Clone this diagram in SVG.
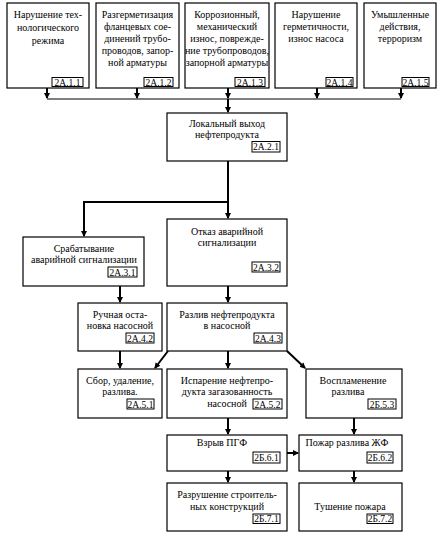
<svg xmlns="http://www.w3.org/2000/svg" width="440" height="535" viewBox="0 0 440 535">
<style>
.b{fill:#fff;stroke:#000;stroke-width:1.2}
.c{fill:#fff;stroke:#000;stroke-width:1}
text{font-family:'Liberation Serif','Times New Roman',serif;font-size:10px;fill:#000;text-anchor:middle}
.k{font-size:9.5px}
.w{fill:none;stroke:#000;stroke-width:2}
.t{fill:none;stroke:#000;stroke-width:1.2}
</style>
<defs>
<marker id="ah" viewBox="0 0 6 6" refX="5" refY="3" markerWidth="3" markerHeight="3" orient="auto" markerUnits="strokeWidth">
<path d="M0,0 L6,3 L0,6 z" fill="#000"/>
</marker>
</defs>
<rect width="440" height="535" fill="#fff"/>

<g id="connectors">
<path class="w" d="M47,88 V98" marker-end="url(#ah)"/>
<path class="w" d="M137,88 V98" marker-end="url(#ah)"/>
<path class="w" d="M228,88 V98" marker-end="url(#ah)"/>
<path class="w" d="M317,88 V98" marker-end="url(#ah)"/>
<path class="w" d="M401,88 V98" marker-end="url(#ah)"/>
<path class="t" d="M47,99 H401"/>
<path class="w" d="M228,99 V112" marker-end="url(#ah)"/>
<path class="w" d="M228,161 V218" marker-end="url(#ah)"/>
<path class="w" d="M228,202 H84 V236" marker-end="url(#ah)"/>
<path class="w" d="M120,286 V302" marker-end="url(#ah)"/>
<path class="w" d="M228,286 V302" marker-end="url(#ah)"/>
<path class="w" d="M120,351 V368" marker-end="url(#ah)"/>
<path class="w" d="M168,351 L155,368" marker-end="url(#ah)"/>
<path class="w" d="M228,351 V368" marker-end="url(#ah)"/>
<path class="w" d="M287,351 L305,368" marker-end="url(#ah)"/>
<path class="w" d="M228,418 V434" marker-end="url(#ah)"/>
<path class="w" d="M354,418 V434" marker-end="url(#ah)"/>
<path class="w" d="M287,453 H298" marker-end="url(#ah)"/>
<path class="w" d="M228,471 V482" marker-end="url(#ah)"/>
<path class="w" d="M354,471 V482" marker-end="url(#ah)"/>
</g>

<g id="n2A11">
<rect class="b" x="7" y="3" width="82" height="85"/>
<text x="48" y="18">Нарушение тех-</text>
<text x="48" y="31">нологического</text>
<text x="48" y="44">режима</text>
<rect class="c" x="52" y="77.5" width="31" height="9"/>
<text class="k" x="67.5" y="85.5">2А.1.1</text>
</g>
<g id="n2A12">
<rect class="b" x="96" y="3" width="83" height="85"/>
<text x="137.5" y="18">Разгерметизация</text>
<text x="137.5" y="30">фланцевых сое-</text>
<text x="137.5" y="42">динений трубо-</text>
<text x="137.5" y="54">проводов, запор-</text>
<text x="137.5" y="66">ной арматуры</text>
<rect class="c" x="144" y="77.5" width="29" height="9"/>
<text class="k" x="158.5" y="85.5">2А.1.2</text>
</g>
<g id="n2A13">
<rect class="b" x="185" y="3" width="84" height="85"/>
<text x="227" y="18">Коррозионный,</text>
<text x="227" y="30">механический</text>
<text x="227" y="42">износ, поврежде-</text>
<text x="227" y="54">ние трубопроводов,</text>
<text x="227" y="66">запорной арматуры</text>
<rect class="c" x="235" y="77.5" width="30" height="9"/>
<text class="k" x="250" y="85.5">2А.1.3</text>
</g>
<g id="n2A14">
<rect class="b" x="275" y="3" width="82" height="85"/>
<text x="316" y="18">Нарушение</text>
<text x="316" y="30">герметичности,</text>
<text x="316" y="42">износ насоса</text>
<rect class="c" x="326" y="77.5" width="27" height="9"/>
<text class="k" x="339.5" y="85.5">2А.1.4</text>
</g>
<g id="n2A15">
<rect class="b" x="364" y="3" width="72" height="85"/>
<text x="400" y="18">Умышленные</text>
<text x="400" y="30">действия,</text>
<text x="400" y="42">терроризм</text>
<rect class="c" x="402" y="77.5" width="27" height="9"/>
<text class="k" x="415.5" y="85.5">2А.1.5</text>
</g>

<g id="n2A21">
<rect class="b" x="167" y="113" width="120" height="48"/>
<text x="227" y="127">Локальный выход</text>
<text x="227" y="138">нефтепродукта</text>
<rect class="c" x="252" y="141.5" width="28" height="10.5"/>
<text class="k" x="266" y="150">2А.2.1</text>
</g>

<g id="n2A31">
<rect class="b" x="23" y="237" width="121" height="49"/>
<text x="84" y="252">Срабатывание</text>
<text x="84" y="263">аварийной сигнализации</text>
<rect class="c" x="108" y="267" width="29" height="10"/>
<text class="k" x="122.5" y="275.5">2А.3.1</text>
</g>
<g id="n2A32">
<rect class="b" x="167" y="219" width="120" height="67"/>
<text x="227" y="235">Отказ аварийной</text>
<text x="227" y="246">сигнализации</text>
<rect class="c" x="252" y="262" width="28" height="10"/>
<text class="k" x="266" y="270.5">2А.3.2</text>
</g>

<g id="n2A42">
<rect class="b" x="78" y="303" width="84" height="48"/>
<text x="120" y="318">Ручная оста-</text>
<text x="120" y="329">новка насосной</text>
<rect class="c" x="126" y="333" width="28" height="10"/>
<text class="k" x="140" y="341.5">2А.4.2</text>
</g>
<g id="n2A43">
<rect class="b" x="167" y="303" width="120" height="48"/>
<text x="227" y="318">Разлив нефтепродукта</text>
<text x="227" y="329">в насосной</text>
<rect class="c" x="254" y="333" width="28" height="10"/>
<text class="k" x="268" y="341.5">2А.4.3</text>
</g>

<g id="n2A51">
<rect class="b" x="78" y="369" width="84" height="49"/>
<text x="120" y="384">Сбор, удаление,</text>
<text x="120" y="395">разлива.</text>
<rect class="c" x="127" y="399" width="27" height="10"/>
<text class="k" x="140.5" y="407.5">2А.5.1</text>
</g>
<g id="n2A52">
<rect class="b" x="167" y="369" width="120" height="49"/>
<text x="227" y="384">Испарение нефтепро-</text>
<text x="227" y="395">дукта загазованность</text>
<text x="227" y="407">насосной</text>
<rect class="c" x="253" y="399" width="29" height="10"/>
<text class="k" x="267.5" y="407.5">2А.5.2</text>
</g>
<g id="n2B53">
<rect class="b" x="306" y="369" width="96" height="49"/>
<text x="353" y="384">Воспламенение</text>
<text x="348" y="395">разлива</text>
<rect class="c" x="368" y="399" width="28" height="10"/>
<text class="k" x="382" y="407.5">2Б.5.3</text>
</g>

<g id="n2B61">
<rect class="b" x="167" y="435" width="120" height="36"/>
<text x="222" y="446">Взрыв ПГФ</text>
<rect class="c" x="253" y="452" width="27" height="11"/>
<text class="k" x="266.5" y="461">2Б.6.1</text>
</g>
<g id="n2B62">
<rect class="b" x="299" y="435" width="103" height="36"/>
<text x="347" y="446">Пожар разлива ЖФ</text>
<rect class="c" x="367" y="452" width="26" height="11"/>
<text class="k" x="380" y="461">2Б.6.2</text>
</g>

<g id="n2B71">
<rect class="b" x="167" y="483" width="120" height="48"/>
<text x="227" y="498">Разрушение строитель-</text>
<text x="227" y="510">ных конструкций</text>
<rect class="c" x="253" y="514" width="27" height="9.5"/>
<text class="k" x="266.5" y="522">2Б.7.1</text>
</g>
<g id="n2B72">
<rect class="b" x="299" y="483" width="103" height="48"/>
<text x="350" y="510">Тушение пожара</text>
<rect class="c" x="367" y="514" width="26" height="9.5"/>
<text class="k" x="380" y="522">2Б.7.2</text>
</g>
</svg>
